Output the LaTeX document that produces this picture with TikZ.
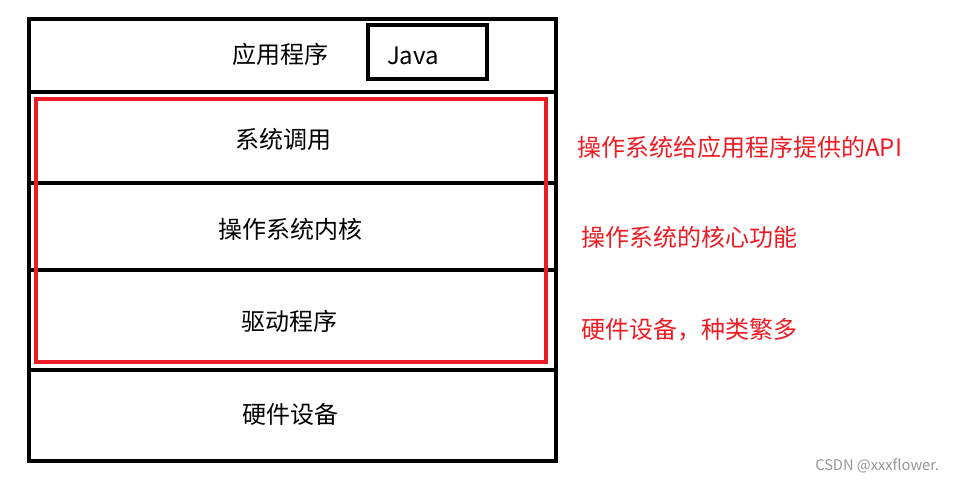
\documentclass[tikz,border=0pt]{standalone}
\usepackage{fontspec}
\setmainfont{Noto Sans CJK SC}
\definecolor{pred}{RGB}{237,28,36}
\definecolor{wm}{RGB}{150,150,150}
\begin{document}
\begin{tikzpicture}[x=0.75pt,y=-0.75pt,
  blk/.style={line width=3pt},
  redbox/.style={draw=pred,line width=3pt},
  lbl/.style={font=\fontsize{18}{20}\selectfont,inner sep=0pt},
  note/.style={font=\fontsize{18}{20}\selectfont,text=pred,anchor=west,inner sep=0pt}]
\useasboundingbox (0,0) rectangle (957,482);
% outer box and separators
\draw[blk] (29,19) rectangle (556,461);
\draw[blk] (29,91.5) -- (556,91.5);
\draw[blk] (29,183) -- (556,183);
\draw[blk] (29,270) -- (556,270);
\draw[blk] (29,369.5) -- (556,369.5);
% java box
\draw[blk] (368,25) rectangle (487,79);
% red box
\draw[redbox] (35.5,98.5) rectangle (546,361.5);
% layer labels
\node[lbl] (app) at (280,54) {应用程序};
\node[lbl] (java) at (413,56) {Java};
\node[lbl] (sys) at (283,139) {系统调用};
\node[lbl] (kern) at (290,229) {操作系统内核};
\node[lbl] (drv) at (289,321) {驱动程序};
\node[lbl] (hw) at (290,414) {硬件设备};
% notes
\node[note] (n1) at (577,147.5) {操作系统给应用程序提供的API};
\node[note] (n2) at (581,237) {操作系统的核心功能};
\node[note] (n3) at (581,330) {硬件设备，种类繁多};
% watermark
\node[font=\fontsize{11}{13}\selectfont,text=wm,anchor=west,inner sep=0pt] (wmk) at (815,466) {CSDN @xxxflower.};
\end{tikzpicture}
\end{document}
